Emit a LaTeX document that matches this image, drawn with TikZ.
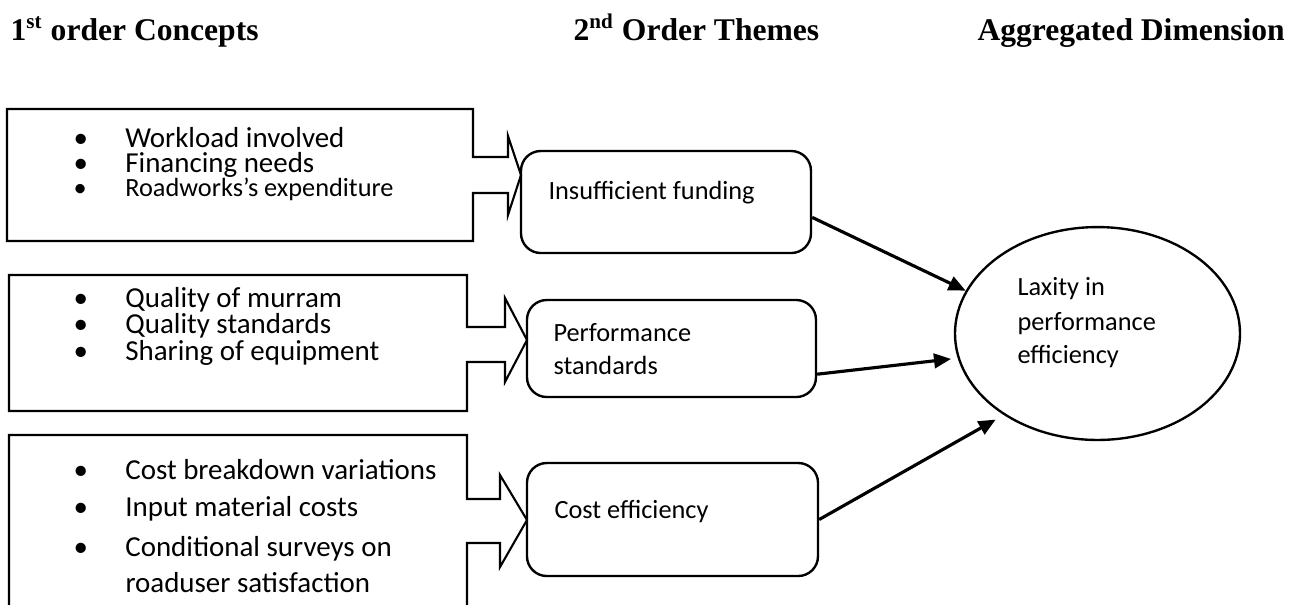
\documentclass[tikz,border=0pt]{standalone}
\usepackage{fontspec}
\setmainfont{Carlito}
\newfontfamily\headfont{Liberation Serif}
\usetikzlibrary{arrows.meta,fit,shapes.geometric}

\newcommand\bul{\makebox[19.7pt][l]{\textbullet}}

\begin{document}
\begin{tikzpicture}[x=0.38pt,y=-0.38pt,
  head/.style={anchor=base west,inner sep=0pt,font=\headfont\fontsize{12}{14}\selectfont\bfseries},
  item/.style={anchor=base west,inner sep=0pt,font=\fontsize{11}{13}\selectfont},
  small/.style={anchor=base west,inner sep=0pt,font=\fontsize{10}{12}\selectfont},
  callout/.style={draw,line width=0.8pt,line join=miter},
  theme/.style={draw,line width=0.9pt,rounded corners=7.5pt,inner sep=0pt},
  conn/.style={-{Triangle[length=6.5pt,width=5.5pt]},line width=1.2pt}]

\useasboundingbox (0,0) rectangle (1295,604);
\clip (0,0) rectangle (1295,604);

% column headings
\node[head] (h1) at (10,40) {1\textsuperscript{st} order Concepts};
\node[head] (h2) at (573,40) {2\textsuperscript{nd} Order Themes};
\node[head] (h3) at (977,40) {Aggregated Dimension};

% first order concepts, boxes with arrow on the right
\draw[callout] (7,109) -- (473,109) -- (473,157) -- (508,157) -- (508,136) -- (521,175)
  -- (508,215) -- (508,193) -- (473,193) -- (473,241) -- (7,241) -- cycle;
\draw[callout] (9,275) -- (467,275) -- (467,327) -- (505,327) -- (505,298) -- (527,340)
  -- (505,382) -- (505,362) -- (467,362) -- (467,411) -- (9,411) -- cycle;
\draw[callout] (9,435) -- (467,435) -- (467,499) -- (500,499) -- (500,475) -- (527,520)
  -- (500,567) -- (500,543) -- (467,543) -- (467,640) -- (9,640) -- cycle;

\node[item] (c11) at (73,147) {\bul Workload involved};
\node[item] (c12) at (73,172) {\bul Financing needs};
\node[small] (c13) at (73,196) {\makebox[19.7pt][l]{\textbullet}Roadworks’s expenditure};

\node[item] (c21) at (73,307) {\bul Quality of murram};
\node[item] (c22) at (73,333) {\bul Quality standards};
\node[item] (c23) at (73,360) {\bul Sharing of equipment};

\node[item] (c31) at (73,479) {\bul Cost breakdown variations};
\node[item] (c32) at (73,516) {\bul Input material costs};
\node[item] (c33) at (73,556) {\bul Conditional surveys on};
\node[item] (c34) at (125,592) {roaduser satisfaction};

% second order themes
\node[theme,fit={(521,151) (811,253)}] (fund) {};
\node[theme,fit={(527,300) (816,397)}] (perf) {};
\node[theme,fit={(527,463) (818,576)}] (cost) {};

\node[small] (t1) at (548,199) {Insufficient funding};
\node[small] (t21) at (553,341) {Performance};
\node[small] (t22) at (553,374) {standards};
\node[small] (t3) at (554,518) {Cost efficiency};

% aggregated dimension
\node[draw,ellipse,line width=0.9pt,minimum width=108.3pt,minimum height=80.9pt,inner sep=0pt]
  (lax) at (1097.5,333.5) {};
\node[small] (d1) at (1017,295) {Laxity in};
\node[small] (d2) at (1017,330) {performance};
\node[small] (d3) at (1017,363) {efficiency};

\draw[conn] (fund.-6) -- (lax.162);
\draw[conn,shorten >=2.5pt] (perf.-10) -- (lax.190);
\draw[conn,shorten >=3.5pt] (cost.east) -- (lax.221);

\end{tikzpicture}
\end{document}
